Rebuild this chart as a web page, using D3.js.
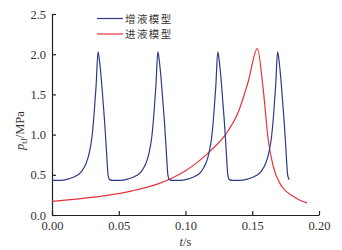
<!DOCTYPE html>
<html>
<head>
<meta charset="utf-8">
<script src="https://cdn.jsdelivr.net/npm/d3@7"></script>
<style>
  body { margin: 0; background: #fff; }
  svg text { font-family: "Liberation Serif", "Times New Roman", Times, "DejaVu Serif", serif; }
</style>
</head>
<body>
<div id="chart"></div>
<script>
// 增液模型 (blue), time in s, pressure in MPa
const blueT = [0.000, 0.0058, 0.0125, 0.0185, 0.0225, 0.0255, 0.028, 0.030, 0.0315, 0.033, 0.0345, 0.0357, 0.037, 0.0383, 0.0395, 0.0408, 0.042, 0.0432, 0.0455,
  0.0506, 0.0573, 0.0633, 0.0673, 0.0703, 0.0728, 0.0748, 0.0763, 0.0778, 0.0793, 0.0805, 0.0818, 0.0831, 0.0843, 0.0856, 0.0868, 0.088, 0.0903,
  0.0955, 0.1022, 0.1082, 0.1122, 0.1152, 0.1177, 0.1197, 0.1212, 0.1227, 0.1242, 0.1254, 0.1267, 0.128, 0.1292, 0.1305, 0.1317, 0.1329, 0.1352,
  0.1403, 0.147, 0.153, 0.157, 0.160, 0.1625, 0.1645, 0.166, 0.1675, 0.169, 0.1702, 0.1715, 0.1728, 0.174, 0.1753, 0.1765, 0.1777];
const blueP = [0.43, 0.43, 0.45, 0.49, 0.55, 0.64, 0.78, 0.98, 1.25, 1.60, 2.03, 1.90, 1.68, 1.40, 1.14, 0.80, 0.50, 0.44, 0.43,
  0.43, 0.45, 0.49, 0.55, 0.64, 0.78, 0.98, 1.25, 1.60, 2.03, 1.90, 1.68, 1.40, 1.14, 0.80, 0.50, 0.44, 0.43,
  0.43, 0.45, 0.49, 0.55, 0.64, 0.78, 0.98, 1.25, 1.60, 2.03, 1.90, 1.68, 1.40, 1.14, 0.80, 0.50, 0.44, 0.43,
  0.43, 0.45, 0.49, 0.55, 0.64, 0.78, 0.98, 1.25, 1.60, 2.03, 1.90, 1.68, 1.40, 1.14, 0.80, 0.50, 0.44];

// 进液模型 (red)
const redT = [0.000, 0.020, 0.040, 0.060, 0.080, 0.090, 0.100, 0.110, 0.120, 0.130, 0.140, 0.147, 0.1538, 0.1583, 0.162, 0.1658, 0.1708, 0.175, 0.180, 0.185, 0.191];
const redP = [0.17, 0.20, 0.24, 0.30, 0.39, 0.46, 0.55, 0.67, 0.82, 1.00, 1.30, 1.66, 2.07, 1.55, 0.93, 0.60, 0.39, 0.30, 0.24, 0.19, 0.15];

const seriesNames = ["增液模型", "进液模型"];
const seriesColors = ["#2c3a88", "#e8323c"];
const xTicks = [0, 0.05, 0.10, 0.15, 0.20];
const yTicks = [0, 0.5, 1.0, 1.5, 2.0, 2.5];

const width = 342, height = 250;
const margin = {left: 52, right: 23, top: 14, bottom: 35};
const serif = "'Liberation Serif', 'Times New Roman', Times, serif";

const svg = d3.select("#chart")
    .append("svg")
    .attr("width", width)
    .attr("height", height);

const x = d3.scaleLinear()
    .domain([0, 0.2])
    .range([margin.left, width - margin.right]);
const y = d3.scaleLinear()
    .domain([0, 2.5])
    .range([height - margin.bottom, margin.top]);

// axes, ticks pointing inward
const xAxis = svg.append("g")
    .attr("transform", "translate(0," + y(0) + ")")
    .call(d3.axisBottom(x).tickValues(xTicks).tickFormat(d3.format(".2f"))
        .tickSizeInner(-4).tickSizeOuter(0).tickPadding(6));
const yAxis = svg.append("g")
    .attr("transform", "translate(" + x(0) + ",0)")
    .call(d3.axisLeft(y).tickValues(yTicks).tickFormat(d3.format(".1f"))
        .tickSizeInner(-4).tickSizeOuter(0).tickPadding(6));

[xAxis, yAxis].forEach(g => {
    g.attr("font-family", serif).attr("font-size", 12);
    g.select(".domain").attr("stroke", "#222").attr("stroke-width", 1.2);
    g.selectAll(".tick line").attr("stroke", "#222").attr("stroke-width", 1.2);
    g.selectAll(".tick text")
        .style("font-family", serif)
        .style("font-size", "12.5px")
        .attr("fill", "#333");
});

const line = d3.line()
    .x(d => x(d[0]))
    .y(d => y(d[1]))
    .curve(d3.curveMonotoneX);

svg.append("path")
    .attr("d", line(redT.map((t, i) => [t, redP[i]])))
    .attr("fill", "none")
    .attr("stroke", seriesColors[1])
    .attr("stroke-width", 1.2);

svg.append("path")
    .attr("d", line(blueT.map((t, i) => [t, blueP[i]])))
    .attr("fill", "none")
    .attr("stroke", seriesColors[0])
    .attr("stroke-width", 1.2);

// legend
const legend = svg.append("g");
seriesNames.forEach((name, i) => {
    const ly = 18.5 + i * 15.5;
    legend.append("line")
        .attr("x1", 97).attr("x2", 123)
        .attr("y1", ly).attr("y2", ly)
        .attr("stroke", seriesColors[i])
        .attr("stroke-width", 1.2);
    legend.append("text")
        .attr("x", 125).attr("y", ly + 4)
        .style("font-family", "'Noto Sans CJK SC', sans-serif")
        .style("font-size", "10.5px")
        .style("letter-spacing", "1.4px")
        .attr("fill", "#333")
        .text(name);
});

// axis titles
const xt = svg.append("text")
    .attr("x", x(0.1)).attr("y", 246)
    .attr("text-anchor", "middle")
    .style("font-family", serif)
    .style("font-size", "12.5px")
    .attr("fill", "#333");
xt.append("tspan").style("font-style", "italic").text("t");
xt.append("tspan").text("/s");

const yt = svg.append("text")
    .attr("transform", "translate(24," + y(1.05) + ") rotate(-90)")
    .attr("text-anchor", "middle")
    .style("font-family", serif)
    .style("font-size", "12.5px")
    .attr("fill", "#333");
yt.append("tspan").style("font-style", "italic").text("p");
yt.append("tspan").attr("dy", 3).style("font-size", "8px").text("tJ");
yt.append("tspan").attr("dy", -3).text("/MPa");
</script>
</body>
</html>
